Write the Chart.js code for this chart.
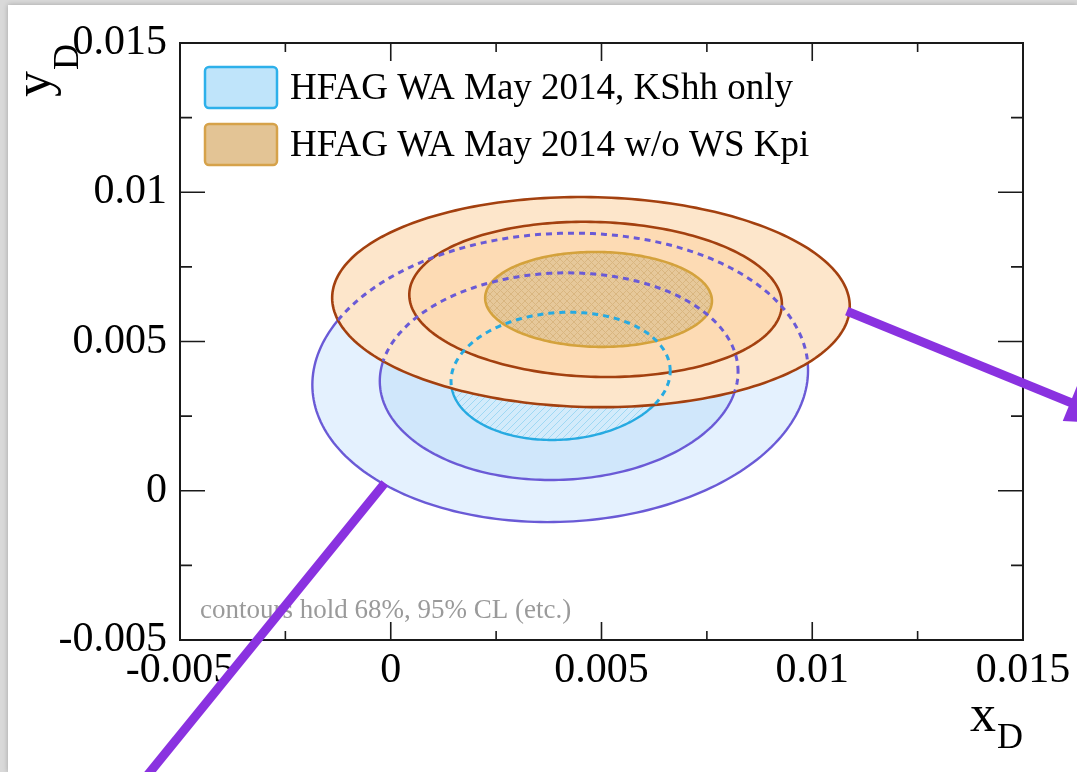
<!DOCTYPE html>
<html>
<head>
<meta charset="utf-8">
<title>xD / yD contours</title>
<script src="https://cdn.jsdelivr.net/npm/chart.js@4.4.1/dist/chart.umd.min.js"></script>
<style>
  html, body { margin: 0; padding: 0; background: #d9d9d9; overflow: hidden; }
  #slide { position: absolute; left: 8px; top: 5px; width: 1069px; height: 767px; background: #fff; box-shadow: 0 0 5px rgba(0,0,0,0.25); }
  #myChart { position: absolute; left: 0; top: 0; }
</style>
</head>
<body>
<div id="slide"></div>
<canvas id="myChart" width="1077" height="772"></canvas>
<script>
const seriesLabels = ['HFAG WA May 2014, KShh only', 'HFAG WA May 2014 w/o WS Kpi'];
const noteText = 'contours hold 68%, 95% CL (etc.)';

// contours, innermost first: centre, half widths, correlation
const kshhX   = [0.00403, 0.00399, 0.00402];
const kshhY   = [0.00384, 0.00383, 0.00379];
const kshhSx  = [0.00260, 0.00425, 0.00588];
const kshhSy  = [0.00214, 0.00347, 0.00484];
const kshhRho = [0.08, 0.045, 0.05];

const kpiX   = [0.00493, 0.00486, 0.00475];
const kpiY   = [0.00641, 0.00641, 0.00632];
const kpiSx  = [0.00269, 0.00442, 0.00614];
const kpiSy  = [0.00159, 0.00260, 0.00352];
const kpiRho = [-0.03, -0.06, -0.04];

// purple arrows drawn on the slide (data units)
const arrowFromX = [-0.00014, 0.01082];
const arrowFromY = [0.00026, 0.00602];
const arrowToX   = [-0.00702, 0.01744];
const arrowToY   = [-0.01170, 0.00220];

const tickStep = 0.0025;
const serif = '"Liberation Serif", "Times New Roman", serif';

function tickLabel(value) {
  const k = Math.round(value / tickStep);
  if (k % 2 !== 0) return '';
  if (k === 0) return '0';
  return String(parseFloat((k * tickStep).toFixed(4)));
}

function ellipsePath(ctx, xs, ys, cx, cy, sx, sy, rho) {
  const k = Math.sqrt(1 - rho * rho);
  ctx.beginPath();
  for (let i = 0; i <= 240; i++) {
    const t = (i / 240) * 2 * Math.PI;
    const px = xs.getPixelForValue(cx + sx * Math.cos(t));
    const py = ys.getPixelForValue(cy + sy * (rho * Math.cos(t) + k * Math.sin(t)));
    if (i === 0) ctx.moveTo(px, py); else ctx.lineTo(px, py);
  }
  ctx.closePath();
}

function hatch(ctx, bg, fg, cross) {
  const c = document.createElement('canvas');
  c.width = 7; c.height = 7;
  const g = c.getContext('2d');
  g.fillStyle = bg;
  g.fillRect(0, 0, 7, 7);
  g.strokeStyle = fg;
  g.lineWidth = 1;
  g.beginPath();
  g.moveTo(-1, 8); g.lineTo(8, -1);
  if (cross) { g.moveTo(-1, -1); g.lineTo(8, 8); }
  g.stroke();
  return ctx.createPattern(c, 'repeat');
}

const contourPlugin = {
  id: 'contours',
  afterDatasetsDraw(chart) {
    const { ctx, chartArea: a } = chart;
    const xs = chart.scales.x, ys = chart.scales.y;
    const blueHatch = hatch(ctx, '#d3ebfb', '#9fd8f4', false);
    const tanHatch = hatch(ctx, '#e6c89a', '#d9b680', true);
    ctx.save();
    ctx.beginPath();
    ctx.rect(a.left, a.top, a.right - a.left, a.bottom - a.top);
    ctx.clip();

    const blueFill = ['#e4f1fe', '#d0e7fb'];
    const blueLine = ['#27aae1', '#6a5ad6', '#6a5ad6'];
    for (let i = 2; i >= 0; i--) {
      ellipsePath(ctx, xs, ys, kshhX[i], kshhY[i], kshhSx[i], kshhSy[i], kshhRho[i]);
      ctx.fillStyle = i === 0 ? blueHatch : (i === 2 ? blueFill[0] : blueFill[1]);
      ctx.fill();
      ctx.strokeStyle = blueLine[i];
      ctx.lineWidth = 2.4;
      ctx.stroke();
    }

    const kpiFill = ['#fde6cb', '#fddbb4'];
    const kpiLine = ['#d4a23c', '#a3400f', '#a3400f'];
    for (let i = 2; i >= 0; i--) {
      ellipsePath(ctx, xs, ys, kpiX[i], kpiY[i], kpiSx[i], kpiSy[i], kpiRho[i]);
      ctx.fillStyle = i === 0 ? tanHatch : (i === 2 ? kpiFill[0] : kpiFill[1]);
      ctx.fill();
      ctx.strokeStyle = kpiLine[i];
      ctx.lineWidth = 2.6;
      ctx.stroke();
    }

    // hidden parts of the KShh contours, dashed on top
    ellipsePath(ctx, xs, ys, kpiX[2], kpiY[2], kpiSx[2], kpiSy[2], kpiRho[2]);
    ctx.clip();
    ctx.setLineDash([6, 5]);
    ctx.lineWidth = 3;
    for (let i = 0; i < 3; i++) {
      ellipsePath(ctx, xs, ys, kshhX[i], kshhY[i], kshhSx[i], kshhSy[i], kshhRho[i]);
      ctx.strokeStyle = blueLine[i];
      ctx.stroke();
    }
    ctx.restore();

    // frame and inward ticks on all four sides
    ctx.save();
    ctx.strokeStyle = '#1a1a1a';
    ctx.lineWidth = 2;
    ctx.strokeRect(a.left, a.top, a.right - a.left, a.bottom - a.top);
    ctx.lineWidth = 1.6;
    ctx.beginPath();
    xs.ticks.forEach(t => {
      const px = xs.getPixelForValue(t.value);
      const len = tickLabel(t.value) ? 18 : 9;
      ctx.moveTo(px, a.bottom); ctx.lineTo(px, a.bottom - len);
      ctx.moveTo(px, a.top); ctx.lineTo(px, a.top + len);
    });
    ys.ticks.forEach(t => {
      const py = ys.getPixelForValue(t.value);
      const len = tickLabel(t.value) ? 25 : 12;
      ctx.moveTo(a.left, py); ctx.lineTo(a.left + len, py);
      ctx.moveTo(a.right, py); ctx.lineTo(a.right - len, py);
    });
    ctx.stroke();
    ctx.restore();
  },
  afterDraw(chart) {
    const { ctx, chartArea: a } = chart;
    const xs = chart.scales.x, ys = chart.scales.y;
    ctx.save();

    // legend
    const boxFill = ['#bfe4fa', '#e3c495'];
    const boxLine = ['#2db0ea', '#d6a24a'];
    seriesLabels.forEach((label, i) => {
      const bx = a.left + 25, by = a.top + 24 + i * 57;
      ctx.beginPath();
      ctx.roundRect(bx, by, 72, 41, 4);
      ctx.fillStyle = boxFill[i];
      ctx.fill();
      ctx.lineWidth = 2.5;
      ctx.strokeStyle = boxLine[i];
      ctx.stroke();
      ctx.fillStyle = '#000';
      ctx.font = '37px ' + serif;
      ctx.textBaseline = 'middle';
      ctx.textAlign = 'left';
      ctx.fillText(label, bx + 85, by + 22);
    });

    ctx.fillStyle = '#9a9a9a';
    ctx.font = '27px ' + serif;
    ctx.textBaseline = 'alphabetic';
    ctx.fillText(noteText, a.left + 20, a.bottom - 22);

    // axis titles
    ctx.fillStyle = '#000';
    ctx.font = '52px ' + serif;
    ctx.fillText('x', a.right - 53, a.bottom + 91);
    ctx.font = '36px ' + serif;
    ctx.fillText('D', a.right - 26, a.bottom + 108);

    ctx.save();
    ctx.translate(50, 97);
    ctx.rotate(-Math.PI / 2);
    ctx.font = '52px ' + serif;
    ctx.fillText('y', 0, 0);
    ctx.font = '36px ' + serif;
    ctx.fillText('D', 27, 28);
    ctx.restore();

    // arrows
    ctx.strokeStyle = '#8a32e0';
    ctx.fillStyle = '#8a32e0';
    ctx.lineWidth = 9;
    for (let i = 0; i < arrowFromX.length; i++) {
      const x0 = xs.getPixelForValue(arrowFromX[i]), y0 = ys.getPixelForValue(arrowFromY[i]);
      const x1 = xs.getPixelForValue(arrowToX[i]), y1 = ys.getPixelForValue(arrowToY[i]);
      const d = Math.hypot(x1 - x0, y1 - y0);
      const ux = (x1 - x0) / d, uy = (y1 - y0) / d;
      ctx.beginPath();
      ctx.moveTo(x0, y0);
      ctx.lineTo(x1 - ux * 45, y1 - uy * 45);
      ctx.stroke();
      ctx.beginPath();
      ctx.moveTo(x1, y1);
      ctx.lineTo(x1 - ux * 60 - uy * 20, y1 - uy * 60 + ux * 20);
      ctx.lineTo(x1 - ux * 60 + uy * 20, y1 - uy * 60 - ux * 20);
      ctx.closePath();
      ctx.fill();
    }
    ctx.restore();
  }
};

const tickFont = { family: serif, size: 42 };

new Chart(document.getElementById('myChart').getContext('2d'), {
  type: 'scatter',
  data: {
    datasets: [
      { label: seriesLabels[0], data: [{ x: kshhX[0], y: kshhY[0] }], pointRadius: 0 },
      { label: seriesLabels[1], data: [{ x: kpiX[0], y: kpiY[0] }], pointRadius: 0 },
    ],
  },
  options: {
    responsive: false,
    animation: false,
    events: [],
    layout: { padding: { top: 43, right: 54, left: 0, bottom: 0 } },
    plugins: { legend: { display: false }, tooltip: { enabled: false } },
    scales: {
      x: {
        type: 'linear', min: -0.005, max: 0.015,
        grid: { display: false, drawTicks: false }, border: { display: false },
        ticks: { stepSize: tickStep, autoSkip: false, maxRotation: 0, padding: 6, color: '#000', font: tickFont, callback: tickLabel },
        afterFit: s => { s.height = 132; },
      },
      y: {
        type: 'linear', min: -0.005, max: 0.015,
        grid: { display: false, drawTicks: false }, border: { display: false },
        ticks: { stepSize: tickStep, autoSkip: false, padding: 13, color: '#000', font: tickFont, callback: tickLabel },
        afterFit: s => { s.width = 180; },
      },
    },
  },
  plugins: [contourPlugin],
});
</script>
</body>
</html>
